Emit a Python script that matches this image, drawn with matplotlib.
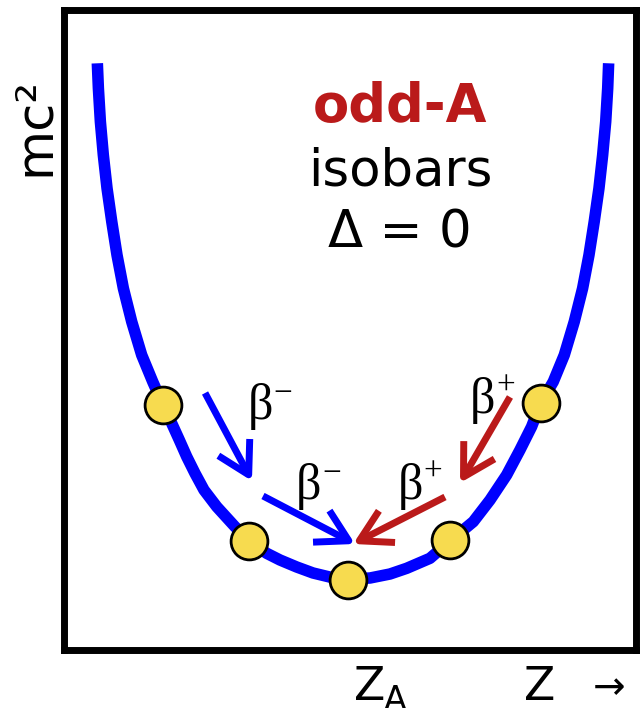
import matplotlib
matplotlib.use("Agg")
import matplotlib.pyplot as plt
from matplotlib.patches import FancyArrowPatch, ArrowStyle

# mass parabola of odd-A isobars (Z offset from Z_A, mass in arbitrary units)
curve_z = [-2.660, -2.649, -2.628, -2.597, -2.558, -2.508, -2.453, -2.386, -2.298,
           -2.193, -2.077, -1.968, -1.877, -1.797, -1.719, -1.632, -1.537, -1.403,
           -1.211, -1.060, -0.877, -0.737, -0.561, -0.389, -0.193, 0.000,
           0.211, 0.421, 0.597, 0.842, 1.053, 1.298, 1.474, 1.649, 1.789, 1.912,
           2.007, 2.140, 2.256, 2.361, 2.449, 2.516, 2.571, 2.621, 2.660, 2.692,
           2.713, 2.723]
curve_m = [5.147, 4.897, 4.563, 4.230, 3.897, 3.563, 3.230, 2.897, 2.563,
           2.230, 1.963, 1.730, 1.547, 1.380, 1.213, 1.047, 0.880, 0.713,
           0.513, 0.370, 0.247, 0.180, 0.110, 0.050, 0.005, -0.010,
           0.000, 0.040, 0.097, 0.197, 0.370, 0.563, 0.780, 1.030, 1.280, 1.513,
           1.747, 1.963, 2.230, 2.563, 2.897, 3.230, 3.563, 3.897, 4.230, 4.563,
           4.897, 5.147]

# isobars sitting on the curve
iso_z = [-1.968, -1.063, -0.021, 1.053, 2.011]
iso_m = [1.73, 0.37, -0.02, 0.38, 1.75]

# decay arrows: (z0, m0, z1, m1)
beta_minus = [(-1.526, 1.85, -1.032, 0.97), (-0.916, 0.82, 0.053, 0.34)]
beta_plus = [(1.684, 1.81, 1.158, 0.95), (1.000, 0.81, 0.032, 0.34)]

# label positions for the beta symbols
beta_minus_lbl = [(-0.947, 1.71), (-0.432, 0.91)]
beta_plus_lbl = [(1.400, 1.78), (0.632, 0.92)]

BLUE = "#0000FF"
RED = "#BA1A1A"
YELLOW = "#F7DB4F"

W, H = 642, 708
fig = plt.figure(figsize=(W / 100, H / 100), dpi=100)
ax = fig.add_axes([64 / W, 58 / H, 572 / W, 640 / H])
ax.set_xlim(-3.011, 3.011)
ax.set_ylim(-0.72, 5.68)
ax.set_xticks([])
ax.set_yticks([])
for sp in ax.spines.values():
    sp.set_linewidth(5)
    sp.set_color("black")

ax.plot(curve_z, curve_m, color=BLUE, lw=8.3, solid_capstyle="butt",
        solid_joinstyle="round", zorder=2)
ax.plot(iso_z, iso_m, "o", ms=26.5, mfc=YELLOW, mec="black", mew=2, zorder=3)

style = ArrowStyle("->", head_length=1.12, head_width=0.64)
for arrows, col in [(beta_minus, BLUE), (beta_plus, RED)]:
    for z0, m0, z1, m1 in arrows:
        ar = FancyArrowPatch((z0, m0), (z1, m1), arrowstyle=style, mutation_scale=20,
                             color=col, lw=5, shrinkA=0, shrinkB=0, capstyle="butt",
                             zorder=4)
        ax.add_patch(ar)

serif = ["Liberation Serif", "DejaVu Serif"]
for (x, y), sup in [(p, "\u2212") for p in beta_minus_lbl] + [(p, "+") for p in beta_plus_lbl]:
    ax.text(x, y, "\u03b2", fontsize=36, family=serif, ha="center", va="center")
    ax.annotate(sup, (x, y), xytext=(16.5, 9.5), textcoords="offset points",
                fontsize=24, family=serif, ha="center", va="center")

ax.text(0.526, 4.56, "odd-A", fontsize=38, fontweight="bold", color=RED,
        ha="center", va="baseline")
ax.text(0.526, 3.93, "isobars", fontsize=37, ha="center", va="baseline")
ax.text(0.526, 3.30, "\u0394 = 0", fontsize=37, ha="center", va="baseline")

fig.text(34.5 / W, 1 - 127 / H, "mc\u00b2", fontsize=37, rotation=90,
         ha="center", va="center")
fig.text(370 / W, 1 - 700 / H, "Z", fontsize=33, ha="center", va="baseline")
fig.text(395 / W, 1 - 710 / H, "A", fontsize=24, ha="center", va="baseline")
fig.text(540 / W, 1 - 700 / H, "Z", fontsize=33, ha="center", va="baseline")
fig.text(609 / W, 1 - 699 / H, "\u2192", fontsize=28, ha="center", va="baseline")

fig.savefig("out.png", dpi=100)
